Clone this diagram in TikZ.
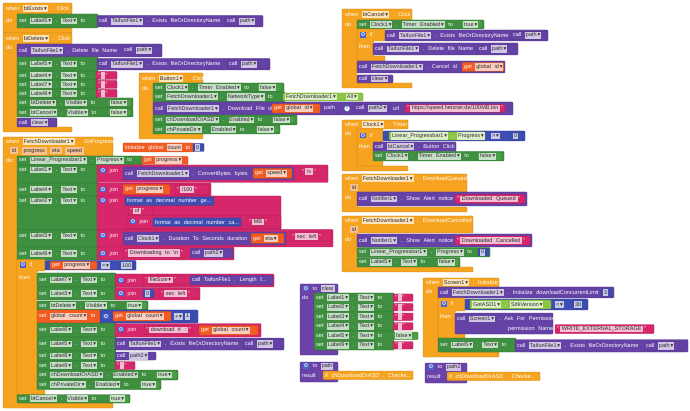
\documentclass[tikz,border=0pt]{standalone}
\usepackage{fontspec}
\setmainfont{Liberation Sans}
\newfontfamily\symfont{DejaVu Sans}
\usepackage{tikz}

\definecolor{evtc}{HTML}{F6A420}
\definecolor{ctlc}{HTML}{F6A420}
\definecolor{setc}{HTML}{3E8F40}
\definecolor{logc}{HTML}{4A9E45}
\definecolor{propc}{HTML}{8DC641}
\definecolor{callc}{HTML}{6542A6}
\definecolor{procc}{HTML}{6A42A8}
\definecolor{txtc}{HTML}{D6276B}
\definecolor{getc}{HTML}{F25C22}
\definecolor{mathc}{HTML}{3E4DB2}
\definecolor{parc}{HTML}{F6C291}
\definecolor{gearc}{HTML}{4A63CF}
\definecolor{fdtext}{HTML}{2E2E2E}
\colorlet{fdc}{white}

\newcounter{lbn}
\newcommand\blkfont{\fontsize{5.5}{6}\selectfont\spaceskip=3.6pt plus 1pt minus 0.5pt}
\newcommand\dn{\,{\symfont\char"25BE}}
\newcommand\fbx[1]{{\fboxsep=0.9pt\colorbox{fdc}{\rule[-0.9pt]{0pt}{5pt}\textcolor{fdtext}{#1}}}}
\newcommand\fd[1]{\fbx{#1\dn}}
\newcommand\nm[1]{\fbx{#1}}
\newcommand\st[1]{"\,\fbx{\hspace{1pt}#1\hspace{1pt}}\,"}
\newcommand\pd[1]{{\fboxsep=0.9pt\colorbox{parc}{\rule[-0.9pt]{0pt}{5pt}\,\textcolor{fdtext}{#1}\,}}}
\newcommand\gr{{\fboxsep=0.5pt\colorbox{gearc}{\textcolor{white}{\symfont\char"2699}}}}
\newcommand\lab[3]{\stepcounter{lbn}\node[tx,fld=#1] (t\arabic{lbn}) at (#2) {#3};}
\newcommand\bk[3]{\filldraw[blk=#1] (#2) rectangle (#3);}
\newcommand\blok[6]{\bk{#1}{#2,#3}{#4,#5}\lab{#1}{{#2+2},{(#3+#5)/2}}{#6}}
\newcommand\shell[7]{\filldraw[blk=#1] (#2,#3) -- (#4,#3) -- (#4,#5) -- ({#2+#7},#5) -- ({#2+#7},#6) -- (#4,#6) -- (#4,{#6+5}) -- (#2,{#6+5}) -- cycle;}

\begin{document}
\begin{tikzpicture}[x=1pt, y=-1pt,
		tx/.style={anchor=west, inner sep=0pt, text=white, font=\blkfont},
		fld/.style={execute at begin node={\colorlet{fdc}{#1!30!white}}},
		blk/.style={fill=#1, draw=#1!78!black, line width=0.35pt, rounded corners=0.8pt}
	]
	\useasboundingbox (0,0) rectangle (690,411);

	\shell{evtc}{3}{3}{72}{14}{28}{14}
	\lab{evtc}{6,8.5}{when \fd{btExists} . Click}
	\lab{evtc}{6,21}{do}
	\blok{setc}{17}{14}{98}{28}{set \fd{Label5} . \fd{Text} to}
	\blok{callc}{97}{15.5}{263}{27}{call \fd{TaifunFile1} . Exists fileOrDirectoryName}
	\blok{callc}{225}{17}{261}{25.5}{call \fd{path}}

	\shell{evtc}{3}{33}{72}{44}{127}{14}
	\lab{evtc}{6,38.5}{when \fd{btDelete} . Click}
	\lab{evtc}{6,48}{do}
	\blok{callc}{17}{44}{162}{57}{call \fd{TaifunFile1} . Delete file Name}
	\blok{callc}{122}{46}{160}{55}{call \fd{path}}
	\blok{setc}{17}{57}{98}{71}{set \fd{Label5} . \fd{Text} to}
	\blok{callc}{97}{58.5}{270}{70}{call \fd{TaifunFile1} . Exists fileOrDirectoryName}
	\blok{callc}{227}{60}{268}{68.5}{call \fd{path}}
	\blok{setc}{17}{71}{98}{80}{set \fd{Label4} . \fd{Text} to}
	\blok{txtc}{96}{71.5}{117}{79.5}{\st{}}
	\blok{setc}{17}{80}{98}{89}{set \fd{Label7} . \fd{Text} to}
	\blok{txtc}{96}{80.5}{117}{88.5}{\st{}}
	\blok{setc}{17}{89}{98}{98}{set \fd{Label8} . \fd{Text} to}
	\blok{txtc}{96}{89.5}{117}{97.5}{\st{}}
	\blok{setc}{17}{98}{133}{108}{set \fd{btDelete} . \fd{Visible} to}
	\blok{logc}{108}{99.5}{131}{106.5}{\fd{false}}
	\blok{setc}{17}{108}{133}{117}{set \fd{btCancel} . \fd{Visible} to}
	\blok{logc}{108}{109.5}{131}{115.5}{\fd{false}}
	\blok{callc}{17}{118}{57}{127}{call \fd{clear}}

	\shell{evtc}{139}{73}{203}{84}{134}{14}
	\lab{evtc}{142,78.5}{when \fd{Button1} . Click}
	\lab{evtc}{142,89}{do}
	\blok{setc}{153}{83}{284}{92}{set \fd{Clock1} . \fd{Timer Enabled} to}
	\blok{logc}{257}{84}{282}{91}{\fd{false}}
	\blok{setc}{153}{92}{285}{102}{set \fd{FetchDownloader1} . \fd{NetworkType} to}
	\blok{propc}{283}{93}{363}{101}{\fd{FetchDownloader1} . \fd{All}}
	\blok{callc}{153}{102}{513}{115}{call \fd{FetchDownloader1} . Download File id}
	\blok{getc}{272}{104}{320}{113}{get \fd{global id}}
	\lab{callc}{324,108.5}{path}
	\node[circle, fill=white, draw=mathc, line width=0.4pt, inner sep=0.4pt, font=\blkfont, text=mathc] (hlp) at (347,108.5) {?};
	\blok{callc}{354}{104.5}{389}{112.5}{call \fd{path2}}
	\lab{callc}{393,108.5}{url}
	\blok{txtc}{405}{104.5}{505}{112.5}{\st{https://speed.hetzner.de/100MB.bin}}
	\blok{setc}{153}{115}{297}{125}{set \fd{chDownloadOrASD} . \fd{Enabled} to}
	\blok{logc}{271}{116.5}{295}{123.5}{\fd{false}}
	\blok{setc}{153}{125}{280}{134}{set \fd{chPrivateDir} . \fd{Enabled} to}
	\blok{logc}{255}{126.5}{279}{132.5}{\fd{false}}

	\blok{getc}{123}{143}{194}{152}{initialize global \nm{count} to}
	\blok{mathc}{193}{143.5}{204}{151.5}{\nm{0}}

	\shell{evtc}{3}{137}{113}{156}{403}{14}
	\lab{evtc}{6,141.5}{when \fd{FetchDownloader1} . OnProgress}
	\lab{evtc}{10,151}{\pd{id} \pd{progress} \pd{eta} \pd{speed}}
	\lab{evtc}{6,161}{do}
	\blok{setc}{17}{156}{143}{165}{set \fd{Linear\_Progressbar1} . \fd{Progress} to}
	\blok{getc}{142}{156.5}{188}{164.5}{get \fd{progress}}
	\bk{setc}{17,165}{98,183}
	\lab{setc}{19,170}{set \fd{Label1} . \fd{Text} to}
	\bk{txtc}{97,165}{328,182.5}
	\lab{txtc}{100,170.5}{\gr\ join}
	\blok{callc}{123}{167}{294}{180}{call \fd{FetchDownloader1} . ConvertBytes bytes}
	\blok{getc}{253}{168.5}{292}{178.5}{get \fd{speed}}
	\blok{txtc}{300}{167}{327}{176}{\st{/s}}
	\bk{setc}{17,183}{98,196}
	\lab{setc}{19,189.5}{set \fd{Label4} . \fd{Text} to}
	\bk{txtc}{97,183}{211,196}
	\lab{txtc}{100,189.5}{\gr\ join}
	\blok{getc}{123}{184.5}{170}{194.5}{get \fd{progress}}
	\blok{txtc}{175}{184.5}{209}{194.5}{\st{/100}}
	\bk{setc}{17,196}{98,230}
	\lab{setc}{19,201}{set \fd{Label2} . \fd{Text} to}
	\bk{txtc}{97,196}{281,230}
	\lab{txtc}{100,201}{\gr\ join}
	\blok{mathc}{125}{197}{214}{205.5}{format as decimal number ge...}
	\blok{txtc}{128}{207}{153}{215}{\st{of}}
	\bk{txtc}{127,215.5}{281,228.5}
	\lab{txtc}{130,222}{\gr\ join}
	\blok{mathc}{153}{218}{241}{226.5}{format as decimal number ca...}
	\blok{txtc}{247}{217.5}{277}{226.5}{\st{MB}}
	\bk{setc}{17,230}{98,247}
	\lab{setc}{19,236}{set \fd{Label3} . \fd{Text} to}
	\bk{txtc}{97,229.5}{333,247}
	\lab{txtc}{100,236}{\gr\ join}
	\blok{callc}{123}{232}{286}{245}{call \fd{Clock1} . Duration To Seconds duration}
	\blok{getc}{251}{233.5}{284}{243.5}{get \fd{eta}}
	\blok{txtc}{290}{232}{331}{241}{\st{sec left}}
	\bk{setc}{17,247}{98,260}
	\lab{setc}{19,253.5}{set \fd{Label9} . \fd{Text} to}
	\bk{txtc}{97,247}{234,260}
	\lab{txtc}{100,253.5}{\gr\ join}
	\blok{txtc}{123}{248.5}{187}{257.5}{\st{Downloading to \textbackslash n}}
	\blok{callc}{190}{248.5}{233}{258}{call \fd{path2}}

	\shell{ctlc}{17}{259.5}{45}{271}{390}{20}
	\lab{ctlc}{20,265}{\gr\ if}
	\lab{ctlc}{19,278}{then}
	\bk{mathc}{45,260.5}{136,270}
	\blok{getc}{50}{261.5}{97}{269.5}{get \fd{progress}}
	\lab{mathc}{101,265.5}{\fd{=}}
	\blok{mathc}{119}{262}{134}{269}{\nm{100}}
	\bk{setc}{37,273}{116,287}
	\lab{setc}{39,280}{set \fd{Label7} . \fd{Text} to}
	\bk{txtc}{115,274}{274,287}
	\lab{txtc}{118,280.5}{\gr\ join}
	\blok{txtc}{143}{275.5}{186}{284.5}{\st{fileSize\dn}}
	\blok{callc}{190}{275.5}{273}{285}{call TaifunFile1 . Length f...}
	\bk{setc}{37,287}{116,300}
	\lab{setc}{39,293.5}{set \fd{Label3} . \fd{Text} to}
	\bk{txtc}{115,287.5}{200,300}
	\lab{txtc}{118,293.5}{\gr\ join}
	\blok{mathc}{143}{289.5}{154}{297.5}{\nm{0}}
	\blok{txtc}{159}{289}{198}{298}{\st{sec left}}
	\blok{setc}{37}{301}{148}{310}{set \fd{btDelete} . \fd{Visible} to}
	\blok{logc}{125}{302}{147}{309}{\fd{true}}
	\blok{getc}{37}{310}{101}{323}{set \fd{global count} to}
	\bk{mathc}{100,310}{198,323}
	\lab{mathc}{103,316.5}{\gr}
	\blok{getc}{113}{311.5}{171}{321}{get \fd{global count}}
	\lab{mathc}{174,316.5}{\fd{+}}
	\blok{mathc}{183}{312}{194}{320.5}{\nm{1}}
	\bk{setc}{37,323}{116,337}
	\lab{setc}{39,330}{set \fd{Label6} . \fd{Text} to}
	\bk{txtc}{115,323.5}{261,337}
	\lab{txtc}{118,330}{\gr\ join}
	\blok{txtc}{144}{325.5}{192}{334.5}{\st{download \# :}}
	\blok{getc}{199}{325.5}{258}{335}{get \fd{global count}}
	\blok{setc}{37}{337}{116}{351}{set \fd{Label5} . \fd{Text} to}
	\blok{callc}{115}{338}{284}{350}{call \fd{TaifunFile1} . Exists fileOrDirectoryName}
	\blok{callc}{243}{339.5}{282}{348.5}{call \fd{path}}
	\blok{setc}{37}{351}{116}{361}{set \fd{Label8} . \fd{Text} to}
	\blok{callc}{115}{352}{156}{360}{call \fd{path2}}
	\blok{setc}{37}{361}{116}{370}{set \fd{Label9} . \fd{Text} to}
	\blok{txtc}{115}{361.5}{135}{369.5}{\st{}}
	\blok{setc}{37}{370}{178}{380}{set \fd{chDownloadOrASD} . \fd{Enabled} to}
	\blok{logc}{155}{371}{177}{379}{\fd{true}}
	\blok{setc}{37}{380}{161}{389.5}{set \fd{chPrivateDir} . \fd{Enabled} to}
	\blok{logc}{139}{381}{160}{388.5}{\fd{true}}
	\blok{setc}{17}{394.5}{130}{403}{set \fd{btCancel} . \fd{Visible} to}
	\blok{logc}{108}{395.5}{129}{402}{\fd{true}}

	\shell{evtc}{342}{9}{412}{20}{83}{15}
	\lab{evtc}{345,14.5}{when \fd{btCancel} . Click}
	\lab{evtc}{345,25}{do}
	\blok{setc}{357}{20}{484}{29}{set \fd{Clock1} . \fd{Timer Enabled} to}
	\blok{logc}{461}{21}{482}{28}{\fd{true}}
	\shell{ctlc}{357}{29}{385}{41}{56}{16}
	\lab{ctlc}{360,35}{\gr\ if}
	\lab{ctlc}{359,47}{then}
	\blok{callc}{385}{30}{548}{41}{call \fd{TaifunFile1} . Exists fileOrDirectoryName}
	\blok{callc}{511}{31.5}{547}{39.5}{call \fd{path}}
	\blok{callc}{373}{43}{518}{55}{call \fd{TaifunFile1} . Delete file Name}
	\blok{callc}{477}{45}{516}{53}{call \fd{path}}
	\blok{callc}{357}{61}{505}{73}{call \fd{FetchDownloader1} . Cancel id}
	\blok{getc}{462}{62.5}{504}{71.5}{get \fd{global id}}
	\blok{callc}{357}{75}{393}{83}{call \fd{clear}}

	\shell{evtc}{342}{120}{408}{129}{166}{15}
	\lab{evtc}{345,124.5}{when \fd{Clock1} . Timer}
	\lab{evtc}{345,134}{do}
	\shell{ctlc}{357}{129}{383}{142}{161}{16}
	\lab{ctlc}{360,135.5}{\gr\ if}
	\lab{ctlc}{359,147}{then}
	\bk{mathc}{383,131}{525,141}
	\blok{propc}{389}{132}{485}{140}{\fd{Linear\_Progressbar1} . \fd{Progress}}
	\lab{mathc}{491,136}{\fd{>}}
	\blok{mathc}{511}{132}{523}{140}{\nm{0}}
	\blok{callc}{373}{142}{456}{151.5}{call \fd{btCancel} . Button Click}
	\blok{setc}{373}{151.5}{504}{161}{set \fd{Clock1} . \fd{Timer Enabled} to}
	\blok{logc}{477}{152.5}{502}{160}{\fd{false}}

	\shell{evtc}{342}{174}{467}{192}{207}{15}
	\lab{evtc}{345,178.5}{when \fd{FetchDownloader1} . DownloadQueued}
	\lab{evtc}{350,187.5}{\pd{id}}
	\lab{evtc}{345,198}{do}
	\blok{callc}{357}{192}{527}{206}{call \fd{Notifier1} . Show Alert notice}
	\blok{txtc}{455}{194.5}{525}{203.5}{\st{Downloaded Queued}}

	\shell{evtc}{342}{216}{473}{233}{267}{15}
	\lab{evtc}{345,220.5}{when \fd{FetchDownloader1} . DownloadCancelled}
	\lab{evtc}{350,229.5}{\pd{id}}
	\lab{evtc}{345,240}{do}
	\blok{callc}{357}{234}{532}{247}{call \fd{Notifier1} . Show Alert notice}
	\blok{txtc}{455}{236}{530}{245}{\st{Downloaded Cancelled}}
	\blok{setc}{357}{247.5}{490}{257}{set \fd{Linear\_Progressbar1} . \fd{Progress} to}
	\blok{mathc}{478}{248.5}{489}{256}{\nm{0}}
	\blok{setc}{357}{257.5}{460}{267}{set \fd{Label5} . \fd{Text} to}
	\blok{logc}{436}{258.5}{459}{266}{\fd{false}}

	\shell{procc}{300}{284}{338}{293}{350}{14}
	\lab{procc}{303,288.5}{\gr\ to \nm{clear}}
	\lab{procc}{302,298}{do}
	\blok{setc}{314}{293}{394}{302.5}{set \fd{Label1} . \fd{Text} to}
	\blok{txtc}{393}{294}{413}{301.5}{\st{}}
	\blok{setc}{314}{302.5}{394}{312}{set \fd{Label2} . \fd{Text} to}
	\blok{txtc}{393}{303.5}{413}{311}{\st{}}
	\blok{setc}{314}{312}{394}{321.5}{set \fd{Label3} . \fd{Text} to}
	\blok{txtc}{393}{313}{413}{320.5}{\st{}}
	\blok{setc}{314}{321.5}{394}{331}{set \fd{Label4} . \fd{Text} to}
	\blok{txtc}{393}{322.5}{413}{330}{\st{}}
	\blok{setc}{314}{331}{394}{340.5}{set \fd{Label5} . \fd{Text} to}
	\blok{logc}{393}{332}{418}{339.5}{\fd{false}}
	\blok{setc}{314}{340.5}{394}{350}{set \fd{Label9} . \fd{Text} to}
	\blok{txtc}{393}{341.5}{413}{349}{\st{}}

	\bk{procc}{300,362}{338,382}
	\lab{procc}{303,366.5}{\gr\ to \nm{path}}
	\lab{procc}{302,376}{result}
	\blok{ctlc}{323}{371}{413}{379.5}{if chDownloadOrASD . Checke...}

	\bk{procc}{425,363}{467,383}
	\lab{procc}{428,367.5}{\gr\ to \nm{path2}}
	\lab{procc}{427,377}{result}
	\blok{ctlc}{447}{372}{540}{380.5}{if chDownloadOrASD . Checke...}

	\shell{evtc}{423}{278}{499}{287}{352}{15}
	\lab{evtc}{426,282.5}{when \fd{Screen1} . Initialize}
	\lab{evtc}{426,292}{do}
	\blok{callc}{438}{287}{614}{298}{call \fd{FetchDownloader1} . Initialize downloadConcurrentLimit}
	\blok{mathc}{601}{289}{612}{296.5}{\nm{3}}
	\shell{ctlc}{438}{298}{465}{311}{333}{17}
	\lab{ctlc}{441,304}{\gr\ if}
	\lab{ctlc}{440,317}{then}
	\bk{mathc}{465,299}{588,310}
	\blok{propc}{470}{300}{551}{309}{\fd{GetASD1} . \fd{SdkVersion}}
	\lab{mathc}{555,304.5}{\fd{<}}
	\blok{mathc}{572}{300.5}{586}{308.5}{\nm{30}}
	\bk{callc}{455,313}{553,334}
	\lab{callc}{457,319}{call \fd{Screen1} . Ask For Permission}
	\lab{callc}{508,329}{permission Name}
	\blok{txtc}{555}{324.5}{654}{333.5}{\st{WRITE\_EXTERNAL\_STORAGE}}
	\blok{setc}{438}{338}{516}{352}{set \fd{Label5} . \fd{Text} to}
	\blok{callc}{515}{339.5}{688}{352}{call \fd{TaifunFile1} . Exists fileOrDirectoryName}
	\blok{callc}{644}{341.5}{684}{350.5}{call \fd{path}}
\end{tikzpicture}
\end{document}
